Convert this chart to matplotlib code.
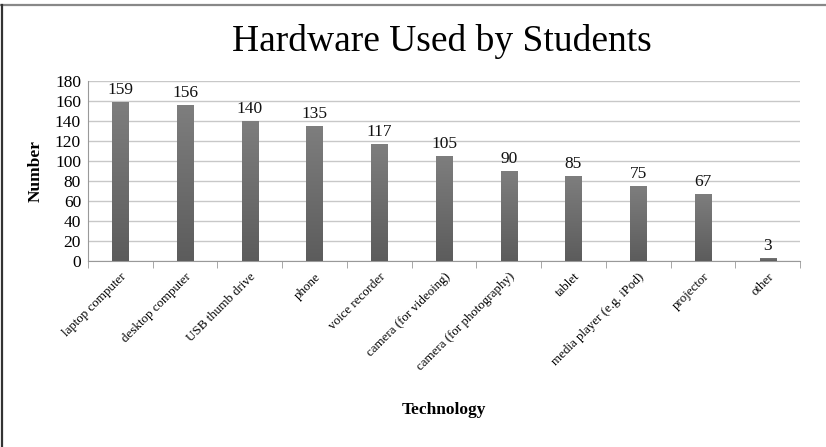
import matplotlib.pyplot as plt
import numpy as np
from matplotlib.colors import LinearSegmentedColormap

# ============================
# DATA
# ============================
categories = ["laptop computer", "desktop computer", "USB thumb drive", "phone",
              "voice recorder", "camera (for videoing)", "camera (for photography)",
              "tablet", "media player (e.g. iPod)", "projector", "other"]
counts = [159, 156, 140, 135, 117, 105, 90, 85, 75, 67, 3]

plt.rcParams['font.family'] = ['Liberation Serif', 'DejaVu Serif']

fig = plt.figure(figsize=(8.26, 4.47), dpi=100)
ax = fig.add_axes([0.1065, 0.416, 0.862, 0.403])

x = np.arange(len(categories))
bars = ax.bar(x, counts, width=0.25, color="#6f6f6f", zorder=3)

# subtle vertical gradient on the bars (lighter top, darker bottom)
cmap = LinearSegmentedColormap.from_list("bar", ["#7e7e7e", "#5c5c5c"])
grad = np.linspace(0, 1, 256).reshape(-1, 1)
for b in bars:
    x0, y0 = b.get_x(), b.get_y()
    im = ax.imshow(grad, cmap=cmap, aspect="auto",
                   extent=[x0, x0 + b.get_width(), y0, y0 + b.get_height()],
                   origin="upper", zorder=3)
    im.set_clip_path(b)
    b.set_facecolor("none")

for xi, v in zip(x, counts):
    ax.text(xi, v + 4, str(v), ha="center", va="bottom", fontsize=12.5, color="#111111")

ax.set_xlim(-0.5, len(categories) - 0.5)
ax.set_ylim(0, 180)
ax.set_yticks(range(0, 181, 20))
ax.tick_params(axis="y", labelsize=12.5, length=0, pad=5)
ax.grid(axis="y", color="#c8c8c8", linewidth=1, zorder=0)

ax.set_xticks(x)
ax.set_xticklabels(categories, rotation=45, ha="right", rotation_mode="anchor", fontsize=9.4)
ax.tick_params(axis="x", length=0, pad=7)
ax.set_xticks(np.arange(-0.5, len(categories)), minor=True)
ax.tick_params(axis="x", which="minor", length=5, color="#999999", direction="out")

for s in ["top", "right"]:
    ax.spines[s].set_visible(False)
ax.spines["left"].set_color("#999999")
ax.spines["bottom"].set_color("#999999")

ax.set_ylabel("Number", fontsize=12.5, fontweight="bold")
ax.yaxis.set_label_coords(-0.062, 0.5)
ax.set_xlabel("Technology", fontsize=12.5, fontweight="bold")
ax.xaxis.set_label_coords(0.5, -0.78)

fig.text(0.535, 0.908, "Hardware Used by Students", ha="center", va="center", fontsize=27)

# page frame: gray line on top, dark line on the left
fig.add_artist(plt.Line2D([0, 1], [0.988, 0.988], transform=fig.transFigure,
                          color="#888888", linewidth=1.6))
fig.add_artist(plt.Line2D([0.002, 0.002], [0, 0.988], transform=fig.transFigure,
                          color="#333333", linewidth=1.6))

fig.savefig("out.png", dpi=100)
